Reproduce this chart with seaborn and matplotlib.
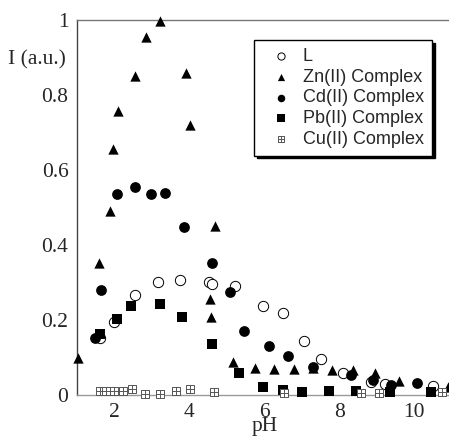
import matplotlib
matplotlib.use('Agg')
import matplotlib.pyplot as plt
from matplotlib.path import Path
import seaborn as sns
import pandas as pd

# values
ph_L = [1.61, 1.98, 2.54, 3.18, 3.76, 4.54, 4.60, 5.21, 5.97, 6.49, 7.05, 7.52, 8.10, 8.84, 9.23, 10.51]
i_L = [0.151, 0.196, 0.267, 0.301, 0.306, 0.301, 0.295, 0.291, 0.238, 0.220, 0.145, 0.095, 0.058, 0.035, 0.030, 0.024]

ph_zn = [1.02, 1.59, 1.89, 1.97, 2.10, 2.56, 2.85, 3.23, 3.91, 4.01, 4.56, 4.58, 4.69, 5.18, 5.76, 6.25,
         6.80, 7.29, 7.80, 8.36, 8.96, 9.59, 10.90]
i_zn = [0.098, 0.351, 0.491, 0.657, 0.757, 0.851, 0.955, 0.997, 0.858, 0.720, 0.256, 0.209, 0.451, 0.087,
        0.071, 0.069, 0.069, 0.071, 0.066, 0.068, 0.058, 0.037, 0.022]

ph_cd = [1.49, 1.65, 2.07, 2.54, 2.99, 3.36, 3.85, 4.62, 5.08, 5.47, 6.12, 6.63, 7.29, 8.31, 8.90, 9.38, 10.08]
i_cd = [0.151, 0.280, 0.536, 0.556, 0.537, 0.540, 0.449, 0.351, 0.275, 0.170, 0.130, 0.105, 0.076, 0.054,
        0.040, 0.027, 0.033]

ph_pb = [1.61, 2.07, 2.45, 3.23, 3.80, 4.60, 5.33, 5.96, 6.49, 7.00, 7.74, 8.44, 9.35, 10.45]
i_pb = [0.162, 0.203, 0.237, 0.242, 0.209, 0.136, 0.058, 0.022, 0.013, 0.009, 0.010, 0.011, 0.009, 0.007]

ph_cu = [1.63, 1.79, 1.98, 2.23, 2.47, 2.81, 3.21, 3.65, 4.01, 4.65, 6.54, 8.59, 9.05, 10.74]
i_cu = [0.012, 0.012, 0.012, 0.012, 0.015, 0.003, 0.004, 0.012, 0.015, 0.008, 0.006, 0.005, 0.005, 0.007]

x_ticks = [2, 4, 6, 8, 10]
y_ticks = [0, 0.2, 0.4, 0.6, 0.8, 1]
y_ticklabels = ['0', '0.2', '0.4', '0.6', '0.8', '1']

# open square with a cross inside, for the Cu(II) points
box_plus = Path(
    [(-1, -1), (1, -1), (1, 1), (-1, 1), (-1, -1), (0, -1), (0, 1), (-1, 0), (1, 0)],
    [Path.MOVETO, Path.LINETO, Path.LINETO, Path.LINETO, Path.CLOSEPOLY,
     Path.MOVETO, Path.LINETO, Path.MOVETO, Path.LINETO],
)

sns.set_style('white')
plt.rcParams['font.family'] = ['Liberation Serif', 'DejaVu Serif']

fig = plt.figure(figsize=(4.49, 4.37), dpi=100)
ax = fig.add_axes([0.171, 0.096, 0.829, 0.858])

series = [
    ('L', ph_L, i_L, dict(marker='o', s=55, facecolor='white', edgecolor='black', linewidth=0.7)),
    ('Zn(II) Complex', ph_zn, i_zn, dict(marker='^', s=55, color='black', linewidth=0)),
    ('Cd(II) Complex', ph_cd, i_cd, dict(marker='o', s=60, color='black', linewidth=0)),
    ('Pb(II) Complex', ph_pb, i_pb, dict(marker='s', s=60, color='black', linewidth=0)),
    ('Cu(II) Complex', ph_cu, i_cu, dict(marker=box_plus, s=30, facecolor='white',
                                         edgecolor='#555555', linewidth=0.7)),
]

for name, xs, ys, kw in series:
    df = pd.DataFrame({'pH': xs, 'I': ys})
    sns.scatterplot(data=df, x='pH', y='I', ax=ax, label=name, clip_on=False, zorder=3, **kw)

ax.set_xlim(1.0, 10.93)
ax.set_ylim(0, 1)
ax.set_xticks(x_ticks)
ax.set_yticks(y_ticks)
ax.set_yticklabels(y_ticklabels)
ax.tick_params(axis='both', direction='out', length=5.5, width=0.8, color='#888888',
               labelsize=15.5)
ax.tick_params(axis='x', pad=0.5)
ax.tick_params(axis='y', pad=0.5)

ax.spines['right'].set_visible(False)
ax.spines['left'].set_color('#444444')
ax.spines['bottom'].set_color('#999999')
ax.spines['top'].set_color('#777777')
for side in ['left', 'bottom', 'top']:
    ax.spines[side].set_linewidth(1.0)

ax.set_xlabel('')
ax.set_ylabel('')
fig.text(0.018, 0.862, 'I (a.u.)', fontsize=15.5, ha='left', va='center')
ax.text(6, -0.097, 'pH', fontsize=15.5, ha='center', va='baseline')

leg = ax.legend(loc='upper left', bbox_to_anchor=(0.476, 0.947), borderaxespad=0,
                frameon=True, fancybox=False,
                shadow={'color': 'black', 'alpha': 1.0}, handlelength=2.1,
                handletextpad=0.15, labelspacing=0.2, borderpad=0.45, markerscale=0.7,
                prop={'family': 'Liberation Sans', 'size': 13})
leg.get_frame().set_edgecolor('black')
leg.get_frame().set_linewidth(1.0)

fig.savefig('out.png', dpi=100)
